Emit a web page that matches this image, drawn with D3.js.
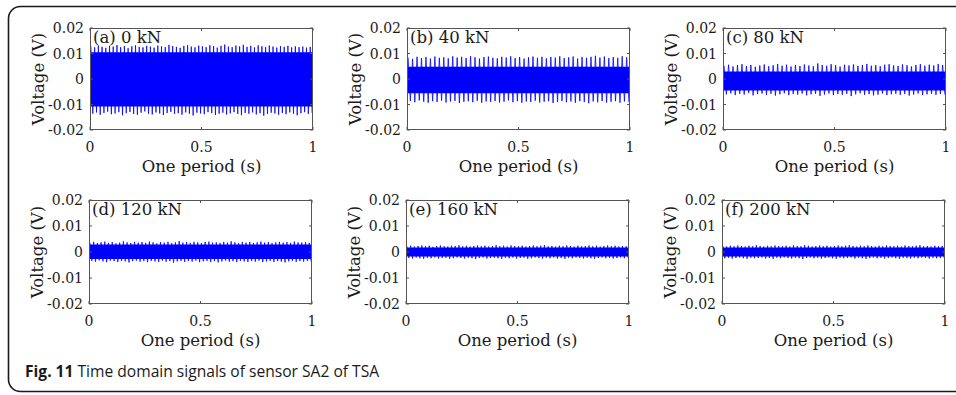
<!DOCTYPE html>
<html>
<head>
<meta charset="utf-8">
<script src="https://cdn.jsdelivr.net/npm/d3@7"></script>
<style>
  html, body { margin: 0; padding: 0; background: #fff; }
  svg { display: block; }
</style>
</head>
<body>
<svg id="chart" width="956" height="395"></svg>
<script>
// ---------------- data ----------------
const panelLabels = ["(a) 0 kN", "(b) 40 kN", "(c) 80 kN", "(d) 120 kN", "(e) 160 kN", "(f) 200 kN"];
const xTicks = [0, 0.5, 1];
const xTickLabels = ["0", "0.5", "1"];
const yTicks = [-0.02, -0.01, 0, 0.01, 0.02];
const yTickLabels = ["-0.02", "-0.01", "0", "0.01", "0.02"];
const xLabel = "One period (s)";
const yLabel = "Voltage (V)";
const caption = ["Fig. 11", " Time domain signals of sensor SA2 of TSA"];

// dense core band [upper, lower] per panel (V)
const coreBands = [[0.0105, -0.0108], [0.0048, -0.0056], [0.0029, -0.0045], [0.0029, -0.0027], [0.0017, -0.0017], [0.0017, -0.0017]];

// spike peaks per cycle (V)
const aTop = [0.0128,0.0124,0.0131,0.0126,0.0122,0.0130,0.0127,0.0133,0.0125,0.0129,0.0121,0.0128,0.0132,0.0126,0.0124,0.0130,0.0127,0.0123,0.0131,0.0128,0.0125,0.0134,0.0129,0.0126,0.0122,0.0130,0.0133,0.0127,0.0124,0.0131,0.0128,0.0125,0.0132,0.0129,0.0123,0.0130,0.0135,0.0127,0.0125,0.0131,0.0128,0.0134,0.0126,0.0130,0.0124,0.0132,0.0128,0.0125,0.0131,0.0127,0.0123,0.0129,0.0126,0.0130,0.0124,0.0128,0.0125,0.0127,0.0123,0.0126];
const aBot = [-0.0136,-0.0131,-0.0140,-0.0133,-0.0128,-0.0138,-0.0135,-0.0130,-0.0142,-0.0134,-0.0129,-0.0137,-0.0140,-0.0132,-0.0127,-0.0136,-0.0139,-0.0131,-0.0135,-0.0141,-0.0133,-0.0129,-0.0137,-0.0134,-0.0140,-0.0131,-0.0136,-0.0143,-0.0132,-0.0135,-0.0138,-0.0130,-0.0134,-0.0141,-0.0136,-0.0132,-0.0139,-0.0135,-0.0130,-0.0137,-0.0142,-0.0133,-0.0136,-0.0131,-0.0139,-0.0134,-0.0144,-0.0137,-0.0132,-0.0135,-0.0140,-0.0133,-0.0138,-0.0131,-0.0136,-0.0142,-0.0134,-0.0130,-0.0137,-0.0133];
const bTop = [0.0084,0.0079,0.0087,0.0082,0.0086,0.0080,0.0088,0.0083,0.0085,0.0081,0.0089,0.0084,0.0087,0.0082,0.0090,0.0085,0.0080,0.0086,0.0088,0.0083,0.0081,0.0087,0.0084,0.0089,0.0082,0.0086,0.0080,0.0085,0.0088,0.0083,0.0087,0.0081,0.0086,0.0084,0.0089,0.0082,0.0085,0.0088,0.0080,0.0086,0.0083,0.0087,0.0091,0.0084,0.0088,0.0082,0.0086,0.0083,0.0089,0.0085];
const bBot = [-0.0086,-0.0091,-0.0084,-0.0089,-0.0093,-0.0087,-0.0090,-0.0085,-0.0092,-0.0088,-0.0086,-0.0094,-0.0089,-0.0087,-0.0091,-0.0085,-0.0093,-0.0088,-0.0090,-0.0086,-0.0092,-0.0089,-0.0084,-0.0091,-0.0087,-0.0093,-0.0088,-0.0090,-0.0085,-0.0092,-0.0089,-0.0087,-0.0094,-0.0090,-0.0086,-0.0091,-0.0088,-0.0093,-0.0087,-0.0090,-0.0095,-0.0088,-0.0091,-0.0086,-0.0092,-0.0089,-0.0087,-0.0093,-0.0088,-0.0090];
const cTop = [0.0052,0.0056,0.0049,0.0054,0.0058,0.0051,0.0055,0.0048,0.0053,0.0057,0.0050,0.0054,0.0059,0.0052,0.0056,0.0049,0.0055,0.0051,0.0057,0.0053,0.0050,0.0061,0.0055,0.0052,0.0058,0.0054,0.0049,0.0056,0.0053,0.0057,0.0051,0.0055,0.0059,0.0052,0.0054,0.0050,0.0056,0.0058,0.0053,0.0051,0.0057,0.0054,0.0049,0.0055,0.0058,0.0052,0.0056,0.0053,0.0059,0.0055];
const cBot = [-0.0060,-0.0056,-0.0063,-0.0058,-0.0061,-0.0055,-0.0064,-0.0059,-0.0057,-0.0062,-0.0058,-0.0065,-0.0060,-0.0056,-0.0063,-0.0059,-0.0061,-0.0057,-0.0064,-0.0060,-0.0058,-0.0066,-0.0061,-0.0057,-0.0063,-0.0059,-0.0062,-0.0058,-0.0067,-0.0060,-0.0056,-0.0062,-0.0059,-0.0064,-0.0061,-0.0057,-0.0063,-0.0060,-0.0058,-0.0062,-0.0059,-0.0065,-0.0061,-0.0057,-0.0063,-0.0060,-0.0058,-0.0062,-0.0059,-0.0061];
const dTop = [0.0036,0.0039,0.0034,0.0037,0.0040,0.0035,0.0038,0.0033,0.0036,0.0041,0.0037,0.0034,0.0039,0.0036,0.0038,0.0035,0.0040,0.0037,0.0033,0.0038,0.0036,0.0039,0.0034,0.0037,0.0042,0.0036,0.0038,0.0035,0.0039,0.0037,0.0034,0.0038,0.0040,0.0036,0.0037,0.0035,0.0039,0.0036,0.0041,0.0037,0.0034,0.0038,0.0036,0.0039,0.0035,0.0037,0.0040,0.0036,0.0038,0.0034,0.0037,0.0039,0.0036,0.0038,0.0035,0.0040,0.0037,0.0036,0.0038,0.0035];
const dBot = [-0.0034,-0.0037,-0.0032,-0.0036,-0.0039,-0.0033,-0.0035,-0.0038,-0.0034,-0.0036,-0.0040,-0.0035,-0.0033,-0.0037,-0.0035,-0.0039,-0.0034,-0.0036,-0.0038,-0.0033,-0.0037,-0.0035,-0.0041,-0.0036,-0.0034,-0.0038,-0.0035,-0.0037,-0.0033,-0.0039,-0.0036,-0.0034,-0.0038,-0.0035,-0.0040,-0.0036,-0.0033,-0.0037,-0.0035,-0.0039,-0.0034,-0.0036,-0.0038,-0.0035,-0.0037,-0.0033,-0.0039,-0.0036,-0.0034,-0.0038,-0.0035,-0.0037,-0.0040,-0.0036,-0.0034,-0.0038,-0.0035,-0.0037,-0.0034,-0.0036];
const eTop = [0.0022,0.0024,0.0021,0.0023,0.0025,0.0022,0.0024,0.0020,0.0023,0.0025,0.0022,0.0021,0.0024,0.0023,0.0026,0.0022,0.0024,0.0021,0.0023,0.0025,0.0022,0.0024,0.0021,0.0023,0.0026,0.0022,0.0024,0.0021,0.0025,0.0023,0.0022,0.0024,0.0021,0.0023,0.0025,0.0022,0.0024,0.0026,0.0022,0.0023,0.0021,0.0024,0.0022,0.0025,0.0023,0.0021,0.0024,0.0022,0.0023,0.0025,0.0022,0.0024,0.0021,0.0023,0.0025,0.0022,0.0024,0.0021,0.0023,0.0022];
const eBot = [-0.0023,-0.0025,-0.0021,-0.0024,-0.0026,-0.0022,-0.0024,-0.0021,-0.0025,-0.0023,-0.0022,-0.0026,-0.0024,-0.0021,-0.0023,-0.0025,-0.0022,-0.0024,-0.0027,-0.0023,-0.0021,-0.0025,-0.0023,-0.0022,-0.0024,-0.0026,-0.0022,-0.0024,-0.0021,-0.0025,-0.0023,-0.0022,-0.0026,-0.0024,-0.0021,-0.0023,-0.0025,-0.0022,-0.0024,-0.0021,-0.0025,-0.0023,-0.0026,-0.0022,-0.0024,-0.0021,-0.0023,-0.0025,-0.0022,-0.0024,-0.0026,-0.0023,-0.0021,-0.0024,-0.0022,-0.0025,-0.0023,-0.0021,-0.0024,-0.0022];
const fTop = [0.0023,0.0021,0.0024,0.0022,0.0025,0.0023,0.0021,0.0024,0.0022,0.0026,0.0023,0.0021,0.0024,0.0022,0.0025,0.0023,0.0022,0.0024,0.0021,0.0025,0.0023,0.0022,0.0026,0.0024,0.0021,0.0023,0.0025,0.0022,0.0024,0.0021,0.0023,0.0025,0.0022,0.0024,0.0026,0.0023,0.0021,0.0024,0.0022,0.0025,0.0023,0.0021,0.0024,0.0022,0.0025,0.0023,0.0022,0.0024,0.0021,0.0025,0.0023,0.0022,0.0024,0.0026,0.0022,0.0023,0.0021,0.0024,0.0022,0.0023];
const fBot = [-0.0024,-0.0022,-0.0025,-0.0023,-0.0021,-0.0024,-0.0026,-0.0022,-0.0024,-0.0023,-0.0021,-0.0025,-0.0023,-0.0026,-0.0022,-0.0024,-0.0021,-0.0023,-0.0025,-0.0022,-0.0024,-0.0027,-0.0023,-0.0021,-0.0024,-0.0022,-0.0025,-0.0023,-0.0021,-0.0024,-0.0026,-0.0022,-0.0024,-0.0023,-0.0021,-0.0025,-0.0022,-0.0024,-0.0026,-0.0023,-0.0021,-0.0024,-0.0022,-0.0025,-0.0023,-0.0021,-0.0024,-0.0026,-0.0022,-0.0023,-0.0025,-0.0022,-0.0024,-0.0021,-0.0023,-0.0025,-0.0022,-0.0024,-0.0023,-0.0022];

const spikeTops = [aTop, bTop, cTop, dTop, eTop, fTop];
const spikeBots = [aBot, bBot, cBot, dBot, eBot, fBot];

// ---------------- layout ----------------
const svg = d3.select("#chart");
const serif = "'DejaVu Serif', serif";
const plotW = 223;
const cells = [
  {x: 90, y: 28, h: 102}, {x: 407, y: 28, h: 102}, {x: 723, y: 28, h: 102},
  {x: 89, y: 200, h: 104}, {x: 406, y: 200, h: 104}, {x: 722, y: 200, h: 104}
];

// outer rounded frame (right side runs off the page)
svg.append("rect")
  .attr("x", 8.5).attr("y", 6.5).attr("width", 990).attr("height", 385)
  .attr("rx", 12).attr("ry", 12)
  .attr("fill", "none").attr("stroke", "#1a1a1a").attr("stroke-width", 1.6);

const blue = "#0000ff";

cells.forEach((c, i) => {
  const x = d3.scaleLinear().domain([0, 1]).range([c.x, c.x + plotW]);
  const y = d3.scaleLinear().domain([-0.02, 0.02]).range([c.y + c.h, c.y]);
  const g = svg.append("g");

  const clipId = "clip" + i;
  svg.append("clipPath").attr("id", clipId)
    .append("rect").attr("x", c.x).attr("y", c.y).attr("width", plotW).attr("height", c.h);
  const pg = g.append("g").attr("clip-path", `url(#${clipId})`);

  // dense core band
  const band = coreBands[i];
  const area = d3.area().x(d => x(d)).y0(y(band[1])).y1(y(band[0]));
  pg.append("path").datum([0, 1]).attr("d", area).attr("fill", blue);

  // spikes: zig-zag through upper and lower peaks
  const tops = spikeTops[i], bots = spikeBots[i];
  const n = tops.length;
  const pts = [];
  for (let k = 0; k < n; k++) {
    pts.push([(k + 0.25) / n, tops[k]]);
    pts.push([(k + 0.75) / n, bots[k]]);
  }
  const line = d3.line().x(d => x(d[0])).y(d => y(d[1]));
  pg.append("path").datum(pts).attr("d", line)
    .attr("fill", "none").attr("stroke", blue).attr("stroke-width", 1).attr("stroke-opacity", 0.8);

  // box
  g.append("rect").attr("x", c.x + 0.5).attr("y", c.y + 0.5).attr("width", plotW - 1).attr("height", c.h - 1)
    .attr("fill", "none").attr("stroke", "#555").attr("stroke-width", 1);

  // inward ticks (MATLAB style)
  const tl = 3;
  yTicks.forEach(t => {
    g.append("line").attr("x1", c.x).attr("x2", c.x + tl).attr("y1", y(t)).attr("y2", y(t)).attr("stroke", "#555");
    g.append("line").attr("x1", c.x + plotW - tl).attr("x2", c.x + plotW).attr("y1", y(t)).attr("y2", y(t)).attr("stroke", "#555");
  });
  xTicks.forEach(t => {
    g.append("line").attr("x1", x(t)).attr("x2", x(t)).attr("y1", c.y + c.h).attr("y2", c.y + c.h - tl).attr("stroke", "#555");
    g.append("line").attr("x1", x(t)).attr("x2", x(t)).attr("y1", c.y).attr("y2", c.y + tl).attr("stroke", "#555");
  });

  // tick labels
  g.selectAll(".yt").data(yTicks).enter().append("text")
    .attr("x", c.x - 6).attr("y", d => y(d)).attr("dy", "0.36em")
    .attr("text-anchor", "end").attr("font-family", serif).attr("font-size", 14).attr("fill", "#1a1a1a")
    .text((d, k) => yTickLabels[k]);
  g.selectAll(".xt").data(xTicks).enter().append("text")
    .attr("x", d => x(d)).attr("y", c.y + c.h + 17).attr("dy", "0.36em")
    .attr("text-anchor", "middle").attr("font-family", serif).attr("font-size", 14).attr("fill", "#1a1a1a")
    .text((d, k) => xTickLabels[k]);

  // axis labels
  g.append("text").attr("x", c.x + plotW / 2).attr("y", c.y + c.h + 36).attr("dy", "0.36em")
    .attr("text-anchor", "middle").attr("font-family", serif).attr("font-size", 16.5).attr("fill", "#1a1a1a")
    .text(xLabel);
  g.append("text")
    .attr("transform", `translate(${c.x - 52},${c.y + c.h / 2}) rotate(-90)`)
    .attr("dy", "0.36em")
    .attr("text-anchor", "middle").attr("font-family", serif).attr("font-size", 16.5).attr("fill", "#1a1a1a")
    .text(yLabel);

  // panel label
  g.append("text").attr("x", c.x + 3).attr("y", c.y + 15)
    .attr("font-family", serif).attr("font-size", 16.5).attr("fill", "#1a1a1a")
    .text(panelLabels[i]);
});

// caption
const cap = svg.append("text").attr("x", 25).attr("y", 377)
  .attr("font-family", "'Open Sans', 'Noto Sans', sans-serif").attr("font-size", 15.6).attr("fill", "#1a1a1a");
cap.append("tspan").attr("font-weight", "bold").text(caption[0]);
cap.append("tspan").text(caption[1]);
</script>
</body>
</html>
